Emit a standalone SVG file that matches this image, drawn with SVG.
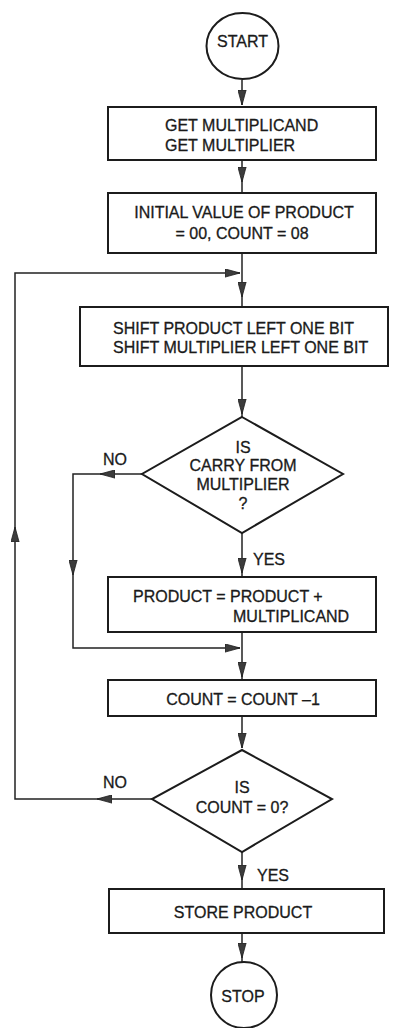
<svg xmlns="http://www.w3.org/2000/svg" width="395" height="1028" viewBox="0 0 395 1028">
  <style>
    .shape { fill: #ffffff; stroke: #1c1c1c; stroke-width: 2; }
    .conn { fill: none; stroke: #222222; stroke-width: 1.5; }
    text { font-family: "Liberation Sans", Arial, sans-serif; font-size: 16px; fill: #1a1a1a; stroke: #1a1a1a; stroke-width: 0.3; }
    .c { text-anchor: middle; }
  </style>
  <defs>
    <marker id="arr" viewBox="0 0 15 9" refX="15" refY="4.5" markerWidth="15" markerHeight="9" markerUnits="userSpaceOnUse" orient="auto">
      <path d="M0,0.4 L15,4.5 L0,8.6 Z" fill="#3c3c3c" stroke="#1c1c1c" stroke-width="0.8"/>
    </marker>
  </defs>
  <rect width="395" height="1028" fill="#ffffff"/>

  <g id="connectors">
    <path class="conn" d="M242,80 V105" marker-end="url(#arr)"/>
    <path class="conn" d="M242,160 V182" marker-end="url(#arr)"/>
    <path class="conn" d="M242,182 V193"/>
    <path class="conn" d="M242,253 V297" marker-end="url(#arr)"/>
    <path class="conn" d="M242,297 V307"/>
    <path class="conn" d="M242,366 V414" marker-end="url(#arr)"/>
    <path class="conn" d="M242,414 V417"/>
    <path class="conn" d="M142,474 H100" marker-end="url(#arr)"/>
    <path class="conn" d="M100,474 H73 V575" marker-end="url(#arr)"/>
    <path class="conn" d="M73,575 V648 H240" marker-end="url(#arr)"/>
    <path class="conn" d="M242,533 V573" marker-end="url(#arr)"/>
    <path class="conn" d="M242,573 V577"/>
    <path class="conn" d="M242,632 V677" marker-end="url(#arr)"/>
    <path class="conn" d="M242,677 V680"/>
    <path class="conn" d="M242,716 V748" marker-end="url(#arr)"/>
    <path class="conn" d="M152,799 H97" marker-end="url(#arr)"/>
    <path class="conn" d="M97,799 H15 V527" marker-end="url(#arr)"/>
    <path class="conn" d="M15,527 V273 H240" marker-end="url(#arr)"/>
    <path class="conn" d="M242,852 V880" marker-end="url(#arr)"/>
    <path class="conn" d="M242,880 V889"/>
    <path class="conn" d="M242,933 V958" marker-end="url(#arr)"/>
    <path class="conn" d="M242,958 V962"/>
  </g>

  <g id="start">
    <ellipse class="shape" cx="242.5" cy="46" rx="36" ry="33"/>
    <text class="c" x="242.5" y="47">START</text>
  </g>

  <g id="get-inputs">
    <rect class="shape" x="108" y="107" width="268" height="53"/>
    <text x="165" y="131">GET MULTIPLICAND</text>
    <text x="165" y="151">GET MULTIPLIER</text>
  </g>

  <g id="init">
    <rect class="shape" x="108" y="193" width="268" height="60"/>
    <text class="c" x="244" y="218">INITIAL VALUE OF PRODUCT</text>
    <text class="c" x="242" y="239">= 00, COUNT = 08</text>
  </g>

  <g id="shift">
    <rect class="shape" x="80" y="307" width="308" height="59"/>
    <text x="113" y="334">SHIFT PRODUCT LEFT ONE BIT</text>
    <text x="113" y="353">SHIFT MULTIPLIER LEFT ONE BIT</text>
  </g>

  <g id="carry-decision">
    <polygon class="shape" points="242,417 343,474 242,533 142,474"/>
    <text class="c" x="243" y="453">IS</text>
    <text class="c" x="243" y="471">CARRY FROM</text>
    <text class="c" x="243" y="490">MULTIPLIER</text>
    <text class="c" x="243" y="509">?</text>
    <text class="c" x="115" y="465">NO</text>
    <text x="253" y="565">YES</text>
  </g>

  <g id="add">
    <rect class="shape" x="108" y="577" width="268" height="55"/>
    <text x="133" y="602">PRODUCT = PRODUCT +</text>
    <text x="233" y="622">MULTIPLICAND</text>
  </g>

  <g id="decrement">
    <rect class="shape" x="108" y="680" width="268" height="36"/>
    <text class="c" x="243" y="705">COUNT = COUNT –1</text>
  </g>

  <g id="count-decision">
    <polygon class="shape" points="242,750 332,799 242,852 152,799"/>
    <text class="c" x="242" y="793">IS</text>
    <text class="c" x="242" y="813">COUNT = 0?</text>
    <text class="c" x="115" y="788">NO</text>
    <text x="257" y="881">YES</text>
  </g>

  <g id="store">
    <rect class="shape" x="109" y="889" width="275" height="44"/>
    <text class="c" x="243" y="918">STORE PRODUCT</text>
  </g>

  <g id="stop">
    <circle class="shape" cx="244" cy="995" r="33"/>
    <text class="c" x="243" y="1002">STOP</text>
  </g>
</svg>
